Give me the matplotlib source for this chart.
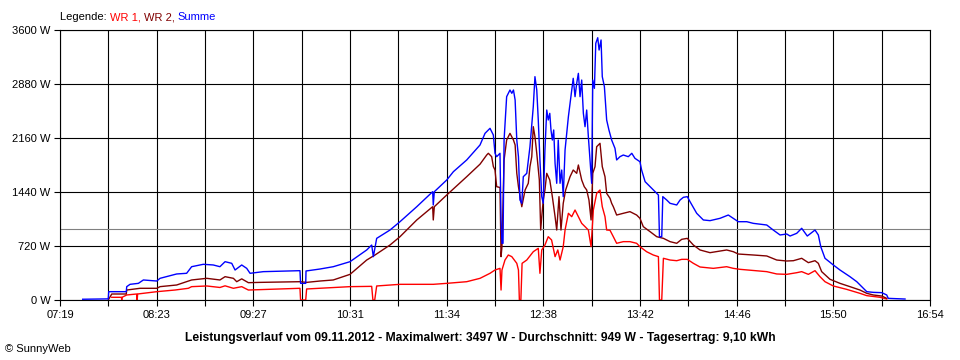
import matplotlib
matplotlib.use("Agg")
import matplotlib.pyplot as plt
import numpy as np

plt.rcParams['font.family'] = ['Liberation Sans', 'DejaVu Sans']

# time axis (minutes since midnight)
x_start = 439   # 07:19
x_end = 1014    # 16:54
tick_labels = ["07:19", "08:23", "09:27", "10:31", "11:34", "12:38",
               "13:42", "14:46", "15:50", "16:54"]
y_ticks = [0, 720, 1440, 2160, 2880, 3600]
average_w = 949

# Summe (blue)
summe_t = [454.0, 470.9, 471.2, 482.8, 483.1, 485.3, 490.8, 494.1, 503.0, 505.1,
           516.1, 522.7, 526.0, 533.7, 540.3, 544.7, 548.1, 552.5, 554.7, 559.1,
           562.4, 564.6, 573.4, 597.6, 598.0, 601.4, 601.6, 610.8, 619.6, 630.7,
           641.7, 645.0, 646.1, 648.3, 657.1, 663.7, 674.8, 685.3, 685.7, 686.4,
           694.6, 699.0, 707.8, 716.6, 719.9, 723.2, 725.4, 726.5, 727.6, 729.8,
           730.5, 731.1, 731.8, 732.5, 734.2, 736.4, 737.6, 738.7, 739.8, 740.9,
           742.0, 743.0, 744.2, 745.2, 747.5, 749.6, 751.8, 752.9, 754.1, 755.1,
           756.2, 757.4, 758.4, 759.5, 760.7, 761.7, 762.7, 763.5, 764.4, 765.3,
           766.2, 767.3, 768.3, 769.5, 770.6, 771.6, 772.8, 775.0, 777.2, 778.2,
           779.4, 780.5, 781.6, 782.7, 783.8, 784.9, 786.0, 787.1, 788.2, 789.3,
           790.4, 791.1, 792.2, 793.1, 794.4, 795.3, 796.6, 797.4, 798.8, 800.3,
           801.8, 803.6, 805.8, 806.9, 809.1, 811.3, 814.6, 816.9, 819.0, 822.3,
           823.4, 825.7, 829.0, 832.3, 834.5, 835.2, 836.7, 837.4, 840.0, 842.2,
           846.6, 848.8, 851.0, 853.6, 855.4, 859.8, 864.2, 868.6, 875.2, 880.7,
           884.0, 887.3, 892.9, 897.2, 906.1, 910.4, 914.9, 919.3, 921.5, 925.9,
           929.2, 932.9, 938.0, 940.2, 941.8, 944.6, 950.1, 954.5, 961.1, 965.6,
           972.2, 976.5, 982.1, 985.4, 986.4, 997.5]
summe_w = [10, 15, 111, 111, 178, 209, 222, 267, 253, 289,
           347, 356, 444, 476, 467, 444, 511, 489, 400, 467,
           422, 356, 378, 391, 222, 222, 387, 413, 444, 511,
           667, 733, 578, 822, 933, 1044, 1244, 1444, 1267, 1444,
           1600, 1711, 1867, 2067, 2222, 2289, 2200, 1956, 1911, 1956,
           1067, 756, 756, 2133, 2711, 2800, 2756, 2800, 2667, 2133,
           1911, 1333, 1289, 1644, 1689, 2044, 2578, 2978, 2800, 2400,
           1867, 1378, 1289, 2000, 2533, 2400, 2489, 2267, 2133, 2267,
           1822, 1556, 2133, 1556, 1733, 1378, 2000, 2444, 2800, 2956,
           2711, 2889, 3022, 2711, 2933, 2489, 2311, 2533, 2178, 1867,
           1556, 2933, 2822, 3422, 3497, 3333, 3467, 2978, 2844, 2400,
           2267, 2133, 2022, 1867, 1911, 1933, 1911, 1956, 1889, 1844,
           1733, 1578, 1511, 1444, 1400, 844, 844, 1378, 1333, 1289,
           1267, 1333, 1369, 1378, 1311, 1156, 1067, 1058, 1089, 1133,
           1089, 1044, 1044, 1022, 1000, 933, 867, 880, 853, 889,
           956, 853, 933, 867, 711, 556, 467, 400, 311, 244,
           111, 102, 98, 67, 22, 13]

# WR 2 (dark red)
wr2_t = [470.9, 473.2, 482.8, 483.1, 491.9, 503.0, 505.1, 516.1, 526.0, 536.0,
         544.7, 548.1, 553.6, 555.8, 559.1, 563.5, 571.2, 597.6, 602.0, 610.8,
         619.6, 630.7, 641.7, 647.2, 657.1, 663.7, 674.8, 685.3, 685.7, 686.4,
         694.6, 707.8, 716.6, 721.0, 722.1, 724.3, 725.4, 726.5, 727.6, 729.8,
         730.5, 731.1, 732.5, 734.2, 736.4, 738.7, 739.8, 740.9, 742.0, 744.2,
         746.4, 748.5, 749.6, 750.8, 751.8, 752.9, 754.1, 755.8, 756.7, 757.4,
         758.4, 759.5, 760.7, 762.7, 764.4, 766.2, 767.3, 768.8, 770.1, 771.6,
         773.2, 776.1, 778.2, 780.5, 781.6, 783.8, 785.5, 787.1, 788.6, 790.0,
         791.1, 792.6, 793.7, 795.9, 797.4, 799.2, 800.3, 802.5, 803.6, 804.7,
         806.9, 811.3, 815.7, 820.1, 822.3, 824.5, 829.0, 833.4, 837.8, 842.2,
         846.6, 849.9, 853.6, 857.6, 862.0, 868.6, 879.6, 884.0, 887.3, 897.2,
         906.1, 912.7, 919.3, 923.7, 929.2, 933.6, 938.0, 940.2, 942.4, 947.9,
         954.5, 961.1, 967.7, 972.2, 976.5, 982.1, 985.4]
wr2_w = [0, 80, 80, 133, 156, 156, 178, 200, 267, 289,
         267, 311, 289, 244, 282, 231, 235, 244, 235, 253,
         267, 342, 533, 600, 733, 844, 1067, 1244, 1067, 1244,
         1400, 1644, 1811, 1933, 1956, 1911, 1780, 1733, 1511, 1500,
         578, 711, 1867, 2133, 2222, 2133, 2067, 1689, 1511, 1244,
         1467, 1556, 1778, 1911, 2311, 2178, 1956, 1600, 933, 1111,
         1333, 1467, 1689, 1600, 1378, 1111, 933, 1378, 933, 1289,
         1467, 1644, 1733, 1689, 1800, 1600, 1511, 1467, 1333, 1067,
         1689, 1778, 2044, 2089, 1778, 1644, 1422, 1356, 1289, 1244,
         1133, 1156, 1178, 1133, 1089, 978, 911, 844, 822, 778,
         756, 809, 822, 733, 667, 631, 667, 644, 613, 600,
         587, 533, 520, 524, 556, 498, 524, 489, 378, 276,
         222, 178, 133, 89, 67, 53, 22]

# WR 1 (red)
wr1_t = [473.2, 479.6, 479.8, 480.0, 483.1, 489.7, 490.0, 490.3, 503.0, 515.0,
         523.8, 526.0, 536.0, 544.7, 548.1, 553.6, 559.1, 563.5, 597.6, 598.0,
         601.4, 602.0, 630.7, 645.0, 645.8, 647.0, 648.3, 663.7, 685.7, 694.6,
         707.8, 716.6, 723.2, 726.5, 729.8, 730.5, 731.1, 733.1, 735.3, 737.6,
         740.9, 742.0, 742.6, 743.6, 744.4, 747.5, 751.8, 755.1, 756.2, 757.4,
         759.5, 761.7, 763.9, 766.2, 768.0, 769.5, 771.6, 772.8, 775.0, 777.2,
         779.4, 781.6, 783.8, 786.0, 788.2, 790.0, 791.5, 793.7, 795.9, 797.4,
         799.2, 800.3, 802.5, 804.7, 806.9, 811.3, 815.7, 820.1, 822.3, 826.7,
         831.1, 834.5, 835.2, 836.7, 837.8, 842.2, 846.6, 849.9, 853.6, 857.6,
         862.0, 870.8, 879.6, 884.0, 888.4, 906.1, 912.7, 919.3, 925.9, 929.2,
         933.6, 938.0, 941.3, 944.6, 950.1, 958.9, 967.7, 972.2, 981.0, 985.4]
wr1_w = [36, 36, 0, 36, 67, 80, 0, 80, 111, 133,
         156, 178, 187, 167, 189, 156, 178, 133, 156, 0,
         0, 147, 178, 182, 0, 0, 187, 209, 209, 222,
         244, 289, 356, 400, 422, 133, 400, 533, 600, 578,
         489, 400, 0, 0, 489, 533, 644, 689, 356, 667,
         733, 844, 800, 578, 667, 533, 711, 933, 1156, 1111,
         1200, 1111, 1022, 978, 933, 711, 1200, 1422, 1467, 1244,
         1111, 933, 930, 844, 756, 778, 778, 756, 711, 644,
         600, 578, 0, 0, 556, 533, 524, 542, 542, 489,
         440, 422, 444, 422, 409, 378, 347, 342, 364, 378,
         342, 391, 311, 244, 187, 142, 89, 58, 36, 13]

fig = plt.figure(figsize=(9.6, 3.6), dpi=100)
ax = fig.add_axes([60/960, 60/360, 870/960, 270/360])

grid_x = np.linspace(x_start, x_end, 19)
for gx in grid_x:
    ax.axvline(gx, color='black', lw=0.8, zorder=1)
for gy in y_ticks:
    ax.axhline(gy, color='black', lw=0.8, zorder=1)
ax.axhline(average_w, color='#808080', lw=0.8, zorder=1)

ax.plot(wr1_t, wr1_w, color='#FF0000', lw=1.0, zorder=3)
ax.plot(wr2_t, wr2_w, color='#800000', lw=1.0, zorder=3)
ax.plot(summe_t, summe_w, color='#0000FF', lw=1.0, zorder=4)

ax.set_xlim(x_start, x_end)
ax.set_ylim(0, 3600)
ax.set_xticks(grid_x)
x_labels = []
for i in range(19):
    x_labels.append(tick_labels[i // 2] if i % 2 == 0 else "")
ax.set_xticklabels(x_labels)
ax.set_yticks(y_ticks)
ax.set_yticklabels([f"{v} W" for v in y_ticks])
ax.tick_params(axis='both', length=4, width=0.8, color='black', labelsize=8, pad=3)
for s in ax.spines.values():
    s.set_color('black')
    s.set_linewidth(0.8)

# legend
t0 = fig.text(60/960, 1 - 17/360, "Legende: ", fontsize=8, color='black', va='center')
t1 = ax.annotate("WR 1, ", xy=(1, 0), xycoords=t0, fontsize=8, color='#FF0000', va='bottom')
t2 = ax.annotate("WR 2, ", xy=(1, 0), xycoords=t1, fontsize=8, color='#800000', va='bottom')
t3 = ax.annotate("Summe", xy=(1, 0), xycoords=t2, fontsize=8, color='#0000FF', va='bottom')

fig.text(0.5, 1 - 338/360,
         "Leistungsverlauf vom 09.11.2012 - Maximalwert: 3497 W - Durchschnitt: 949 W - Tagesertrag: 9,10 kWh",
         ha='center', va='center', fontsize=8.7, fontweight='bold')
fig.text(5/960, 1 - 349/360, "© SunnyWeb", ha='left', va='center', fontsize=8)

fig.savefig("out.png", dpi=100)
